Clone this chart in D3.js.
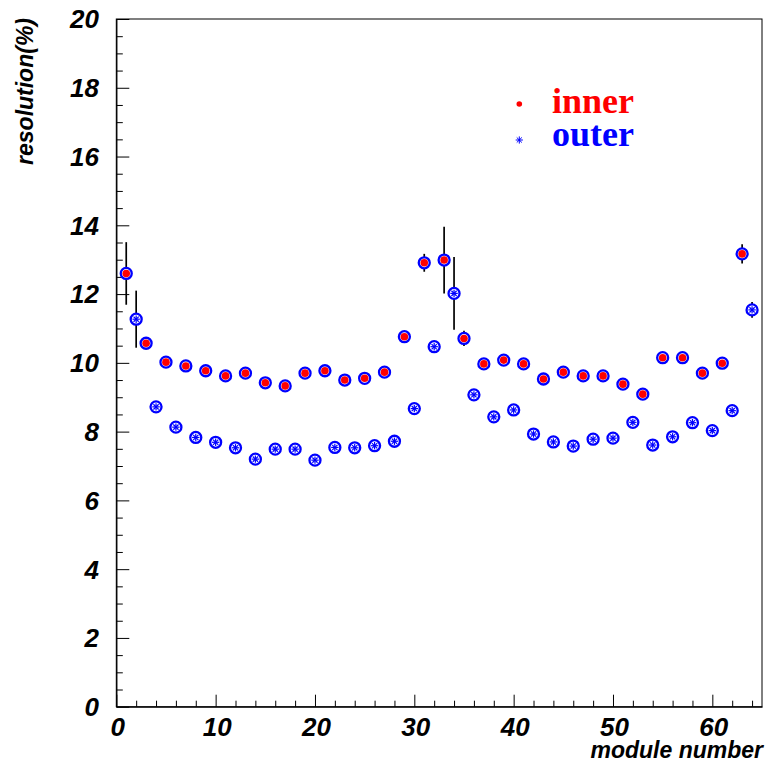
<!DOCTYPE html>
<html>
<head>
<meta charset="utf-8">
<script src="https://cdn.jsdelivr.net/npm/d3@7"></script>
<style>
  html, body { margin: 0; padding: 0; background: #fff; }
  svg { display: block; }
</style>
</head>
<body>
<svg id="chart" width="766" height="767"></svg>
<script>
// ---- data ----
const innerModules = [1,3,5,7,9,11,13,15,17,19,21,23,25,27,29,31,33,35,37,39,41,43,45,47,49,51,53,55,57,59,61,63];
const innerRes = [12.60,10.57,10.02,9.91,9.77,9.62,9.70,9.42,9.33,9.70,9.77,9.50,9.55,9.73,10.76,12.91,12.99,10.71,9.97,10.08,9.97,9.53,9.73,9.62,9.62,9.38,9.09,10.15,10.15,9.70,9.99,13.17];
const innerErr = [0.91,0.12,0.12,0.12,0.12,0.12,0.12,0.12,0.12,0.12,0.12,0.12,0.12,0.12,0.12,0.26,0.97,0.22,0.12,0.12,0.12,0.12,0.12,0.12,0.12,0.12,0.12,0.12,0.12,0.12,0.12,0.28];

const outerModules = [2,4,6,8,10,12,14,16,18,20,22,24,26,28,30,32,34,36,38,40,42,44,46,48,50,52,54,56,58,60,62,64];
const outerRes = [11.27,8.72,8.13,7.83,7.69,7.53,7.20,7.49,7.49,7.17,7.54,7.53,7.59,7.72,8.67,10.47,12.02,9.07,8.43,8.63,7.93,7.70,7.58,7.78,7.81,8.27,7.61,7.85,8.26,8.03,8.61,11.54];
const outerErr = [0.83,0.12,0.12,0.12,0.12,0.12,0.12,0.12,0.12,0.12,0.12,0.12,0.12,0.12,0.12,0.12,1.06,0.12,0.12,0.12,0.12,0.12,0.12,0.12,0.12,0.12,0.12,0.12,0.12,0.12,0.12,0.23];

const xTickLabels = [0,10,20,30,40,50,60];
const yTickLabels = [0,2,4,6,8,10,12,14,16,18,20];
const seriesNames = ["inner","outer"];
const xTitle = "module number";
const yTitle = "resolution(%)";

// ---- layout ----
const svg = d3.select("#chart");
const fL = 116.3, fR = 762, fT = 19, fB = 706.7;
const x = d3.scaleLinear().domain([0, 65]).range([fL, fR]);
const y = d3.scaleLinear().domain([0, 20]).range([fB, fT]);

const sans = "'Liberation Sans', Arial, Helvetica, sans-serif";
const serif = "'Liberation Serif', 'Times New Roman', serif";
const BLUE = "#0000ff", RED = "#ff0000";

// frame
svg.append("rect")
  .attr("x", fL).attr("y", fT)
  .attr("width", fR - fL).attr("height", fB - fT)
  .attr("fill", "none").attr("stroke", "#000").attr("stroke-width", 1);

// x axis ticks
const xAxis = d3.axisBottom(x).tickValues(d3.range(0, 65, 2))
  .tickSize(0).tickFormat("");
const gx = svg.append("g").attr("transform", `translate(0,${fB})`).call(xAxis);
gx.select(".domain").attr("stroke", "#000").attr("stroke-width", 1.3);
gx.selectAll(".tick line")
  .attr("y2", d => d % 10 === 0 ? -12 : -6)
  .attr("stroke", "#000").attr("stroke-width", 1);
svg.append("g").selectAll("text").data(xTickLabels).join("text")
  .attr("x", d => x(d) + 1.5).attr("y", 736)
  .attr("text-anchor", "middle")
  .attr("font-family", sans).attr("font-weight", "bold").attr("font-style", "italic")
  .attr("font-size", 26).attr("fill", "#000")
  .text(d => d);

// y axis ticks
const yAxis = d3.axisLeft(y).tickValues(d3.range(0, 20.01, 0.5))
  .tickSize(0).tickFormat("");
const gy = svg.append("g").attr("transform", `translate(${fL},0)`).call(yAxis);
gy.select(".domain").attr("stroke", "#000").attr("stroke-width", 1.3);
gy.selectAll(".tick line")
  .attr("x2", d => Math.abs(d % 2) < 1e-6 ? 13 : 6.5)
  .attr("stroke", "#000").attr("stroke-width", 1);
svg.append("g").selectAll("text").data(yTickLabels).join("text")
  .attr("x", 99).attr("y", d => y(d))
  .attr("dy", "0.36em")
  .attr("text-anchor", "end")
  .attr("font-family", sans).attr("font-weight", "bold").attr("font-style", "italic")
  .attr("font-size", 26).attr("fill", "#000")
  .text(d => d);

// axis titles
svg.append("text")
  .attr("x", 763).attr("y", 758)
  .attr("text-anchor", "end")
  .attr("font-family", sans).attr("font-weight", "bold").attr("font-style", "italic")
  .attr("font-size", 23).attr("fill", "#000")
  .text(xTitle);
svg.append("text")
  .attr("transform", "translate(33,18) rotate(-90)")
  .attr("text-anchor", "end")
  .attr("font-family", sans).attr("font-weight", "bold").attr("font-style", "italic")
  .attr("font-size", 23).attr("fill", "#000")
  .text(yTitle);

// data
const inner = innerModules.map((m, i) => ({ m, v: innerRes[i], e: innerErr[i], type: "inner" }));
const outer = outerModules.map((m, i) => ({ m, v: outerRes[i], e: outerErr[i], type: "outer" }));
const all = inner.concat(outer);

// error bars
svg.append("g").selectAll("line").data(all).join("line")
  .attr("x1", d => x(d.m)).attr("x2", d => x(d.m))
  .attr("y1", d => y(d.v - d.e)).attr("y2", d => y(d.v + d.e))
  .attr("stroke", "#000").attr("stroke-width", 1.7);

// ring markers
const pts = svg.append("g").selectAll("g").data(all).join("g")
  .attr("transform", d => `translate(${x(d.m)},${y(d.v)})`);
pts.append("circle").attr("r", 5.5)
  .attr("fill", "#fff").attr("stroke", BLUE).attr("stroke-width", 2.3);

function asterisk(sel, r, w) {
  [0, 45, 90, 135].forEach(a => {
    const rad = a * Math.PI / 180;
    sel.append("line")
      .attr("x1", -r * Math.cos(rad)).attr("y1", -r * Math.sin(rad))
      .attr("x2", r * Math.cos(rad)).attr("y2", r * Math.sin(rad))
      .attr("stroke", BLUE).attr("stroke-width", w);
  });
}
pts.filter(d => d.type === "inner").append("circle").attr("r", 3.8).attr("fill", RED);
pts.filter(d => d.type === "outer").each(function () { asterisk(d3.select(this), 3.7, 1.2); });

// legend
const lg = svg.append("g");
lg.append("circle").attr("cx", 519.3).attr("cy", 104).attr("r", 2.8).attr("fill", RED);
const la = lg.append("g").attr("transform", "translate(519.3,140)");
asterisk(la, 3.6, 1);
lg.append("text").attr("x", 552).attr("y", 112.5)
  .attr("font-family", serif).attr("font-weight", "bold").attr("font-size", 36)
  .attr("fill", RED).text(seriesNames[0]);
lg.append("text").attr("x", 552).attr("y", 146)
  .attr("font-family", serif).attr("font-weight", "bold").attr("font-size", 36)
  .attr("fill", BLUE).text(seriesNames[1]);
</script>
</body>
</html>
